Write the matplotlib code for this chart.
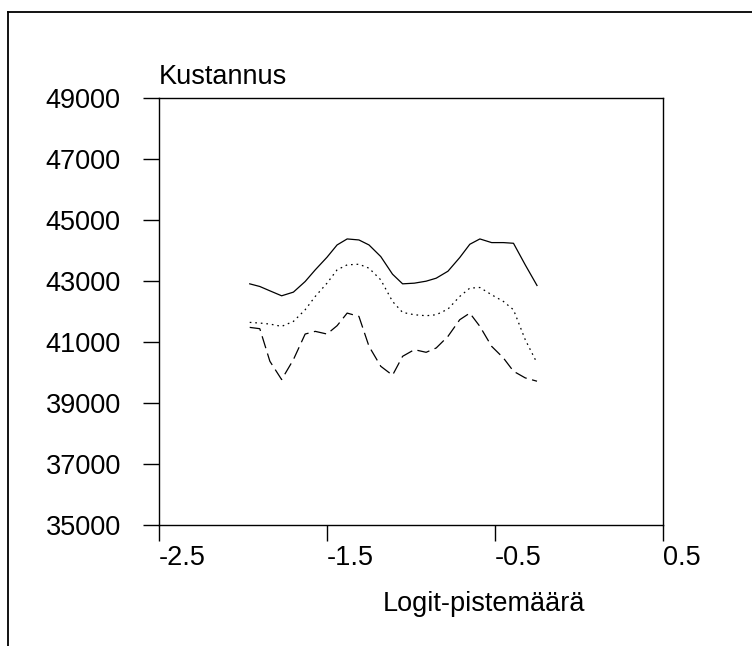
import matplotlib
matplotlib.use("Agg")
import matplotlib.pyplot as plt
from matplotlib.lines import Line2D

plt.rcParams['font.family'] = ['Liberation Sans', 'DejaVu Sans']
plt.rcParams['lines.scale_dashes'] = False

# Data
x_vals = [-1.96, -1.90, -1.84, -1.77, -1.70, -1.63, -1.57, -1.50, -1.44, -1.38,
          -1.31, -1.25, -1.18, -1.11, -1.05, -0.98, -0.91, -0.85, -0.78, -0.71,
          -0.65, -0.59, -0.52, -0.45, -0.39, -0.32, -0.25]
upper = [42907, 42820, 42678, 42515, 42635, 42983, 43365, 43779, 44182, 44379,
         44346, 44182, 43801, 43223, 42907, 42929, 42994, 43092, 43321, 43768,
         44204, 44379, 44259, 44259, 44237, 43529, 42853]
middle = [41643, 41621, 41588, 41512, 41675, 42057, 42493, 42929, 43365, 43529,
          43550, 43420, 43038, 42330, 41970, 41893, 41861, 41893, 42079, 42493,
          42766, 42787, 42548, 42330, 42057, 41076, 40313]
lower = [41479, 41436, 40368, 39768, 40422, 41261, 41349, 41261, 41534, 41948,
         41839, 40858, 40204, 39910, 40531, 40749, 40662, 40804, 41185, 41730,
         41948, 41512, 40858, 40477, 40041, 39823, 39714]

x_ticks = [-2.5, -1.5, -0.5, 0.5]
x_ticklabels = ['-2.5', '-1.5', '-0.5', '0.5']
y_ticks = [35000, 37000, 39000, 41000, 43000, 45000, 47000, 49000]
y_label = 'Kustannus'
x_label = 'Logit-pistemäärä'

fig = plt.figure(figsize=(7.52, 6.46), dpi=100)
ax = fig.add_axes([159/752, 121/646, 504/752, 427/646])

ax.plot(x_vals, upper, color='black', lw=0.9, ls='-')
ax.plot(x_vals, middle, color='black', lw=0.9, ls=(0, (1.2, 2.8)))
ax.plot(x_vals, lower, color='black', lw=0.9, ls=(0, (9, 4)))

ax.set_xlim(-2.5, 0.5)
ax.set_ylim(35000, 49000)
ax.set_xticks(x_ticks)
ax.set_xticklabels(x_ticklabels, ha='left')
ax.set_yticks(y_ticks)
ax.set_yticklabels([str(v) for v in y_ticks])

for s in ax.spines.values():
    s.set_linewidth(1.0)
ax.tick_params(axis='both', direction='out', length=11.5, width=1.0,
               labelsize=19.5, colors='black')
ax.tick_params(axis='y', pad=16)
ax.tick_params(axis='x', pad=3)

fig.text(159/752, 1 - 77/646, y_label, fontsize=19.5, ha='left', va='center')
fig.text(484/752, 1 - 604/646, x_label, fontsize=19.5, ha='center', va='center')

# Outer frame (cropped at right and bottom)
fig.add_artist(Line2D([8/752, 1.0], [1 - 12/646, 1 - 12/646], transform=fig.transFigure,
                      color='black', lw=1.3))
fig.add_artist(Line2D([8/752, 8/752], [0.0, 1 - 12/646], transform=fig.transFigure,
                      color='black', lw=1.3))

fig.savefig('out.png', dpi=100)
